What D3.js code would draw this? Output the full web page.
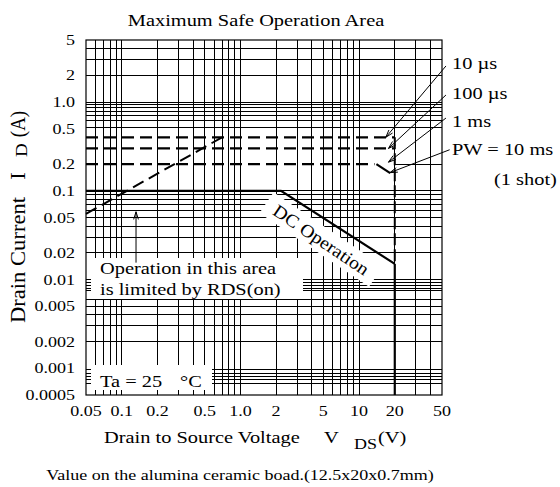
<!DOCTYPE html>
<html><head><meta charset="utf-8">
<script src="https://cdn.jsdelivr.net/npm/d3@7/dist/d3.min.js"></script>
<style>
body{margin:0;background:#fff}
text{font-family:"Liberation Serif","Times New Roman",serif;fill:#000}
</style>
</head><body>
<svg id="chart" width="560" height="487"></svg>
<script>
// ---------- data ----------
const title = "Maximum Safe Operation Area";
const xDomain = [0.05, 50];
const yDomain = [0.0005, 5];
const xTickValues = [0.05, 0.1, 0.2, 0.5, 1, 2, 5, 10, 20, 50];
const xTickLabels = ["0.05", "0.1", "0.2", "0.5", "1.0", "2", "5", "10", "20", "50"];
const yTickValues = [5, 2, 1, 0.5, 0.2, 0.1, 0.05, 0.02, 0.01, 0.005, 0.002, 0.001, 0.0005];
const yTickLabels = ["5", "2", "1.0", "0.5", "0.2", "0.1", "0.05", "0.02", "0.01", "0.005", "0.002", "0.001", "0.0005"];
const xGrid = [0.06, 0.07, 0.08, 0.09, 0.1, 0.2, 0.3, 0.4, 0.5, 0.6, 0.7, 0.8, 0.9,
               1, 2, 3, 4, 5, 6, 7, 8, 9, 10, 20, 30, 40];
const yGrid = [4, 3, 2,
               1.0, 0.93, 0.86, 0.79, 0.71, 0.62, 0.51,
               0.1, 0.09, 0.08, 0.07, 0.06, 0.05, 0.04, 0.03, 0.02,
               0.01, 0.0093, 0.0086, 0.008, 0.0075, 0.006, 0.005, 0.004, 0.003, 0.002,
               0.00096, 0.00088, 0.0008, 0.00074, 0.00068];
const yGridPartial = [[20, 50, 0.2]];          // [from V, to V, I]
const dcLine = [[0.05, 0.1], [2.2, 0.1], [20, 0.015]];
const dcVertical = [[20, 0.015], [20, 0.0005]];
const pulseVertical = [[20, 0.4], [20, 0.015]];
const rdsLine = [[0.05, 0.055], [0.7, 0.4]];
const pw10us = [[0.05, 0.4], [20, 0.4]];
const pw100us = [[0.05, 0.3], [20, 0.3]];
const pw1ms = [[0.05, 0.2], [13.5, 0.2]];
const pw10ms = [[14, 0.2], [18.3, 0.158]];
const pwLabels = ["10 µs", "100 µs", "1 ms", "PW = 10 ms"];
const pwArrowFrom = [[54, 2.55], [54, 1.2], [54, 0.66], [58, 0.29]];
const pwArrowTo = [[16.8, 0.4], [17.7, 0.3], [17.7, 0.21], [18.2, 0.16]];
const rdsArrow = [[0.132, 0.0155], [0.132, 0.058]];
const xTitle = "Drain to Source Voltage";
const yTitle = "Drain Current";
const note = "Value on the alumina ceramic boad.(12.5x20x0.7mm)";

// ---------- drawing ----------
const svg = d3.select("#chart");
const L = 86, R = 442, T = 40, B = 395;
const x = d3.scaleLog().domain(xDomain).range([L, R]);
const y = d3.scaleLog().domain(yDomain).range([B, T]);
const line = d3.line().x(d => x(d[0])).y(d => y(d[1]));
const SX = 1.2;

function txt(g, px, py, s, size, anchor) {
  return g.append("text")
    .attr("transform", `translate(${px},${py}) scale(${SX},1)`)
    .attr("font-size", size).attr("text-anchor", anchor || "start").text(s);
}

// grid
const grid = svg.append("g").attr("stroke", "#000").attr("stroke-width", 1).attr("shape-rendering", "crispEdges");
grid.selectAll("line.v").data(xGrid).join("line")
  .attr("x1", d => x(d)).attr("x2", d => x(d)).attr("y1", T).attr("y2", B);
grid.selectAll("line.h").data(yGrid).join("line")
  .attr("y1", d => y(d)).attr("y2", d => y(d)).attr("x1", L).attr("x2", R);
grid.selectAll("line.p").data(yGridPartial).join("line")
  .attr("x1", d => x(d[0])).attr("x2", d => x(d[1])).attr("y1", d => y(d[2])).attr("y2", d => y(d[2]));

// white label boxes
svg.append("rect").attr("x", 91).attr("y", 258).attr("width", 212).attr("height", 41).attr("fill", "#fff");
svg.append("rect").attr("x", 91).attr("y", 365).attr("width", 121).attr("height", 30).attr("fill", "#fff");
const dcG = svg.append("g").attr("transform", "translate(321,240) rotate(34)");
dcG.append("rect").attr("x", -66).attr("y", -13).attr("width", 132).attr("height", 25).attr("fill", "#fff");
dcG.append("text").attr("font-size", 18).attr("text-anchor", "middle").attr("dy", "0.33em")
  .attr("transform", "scale(1.1,1)").text("DC Operation");

// axis ticks (inside) drawn on top of boxes
const ax = svg.append("g").attr("stroke", "#000").attr("shape-rendering", "crispEdges");
ax.selectAll("line.bt").data(xGrid).join("line")
  .attr("x1", d => x(d)).attr("x2", d => x(d)).attr("y1", B).attr("y2", B - 5);
ax.selectAll("line.lt").data(yGrid).join("line")
  .attr("y1", d => y(d)).attr("y2", d => y(d)).attr("x1", L).attr("x2", L + 5);

// curves
svg.append("path").attr("d", line(dcLine)).attr("fill", "none").attr("stroke", "#000").attr("stroke-width", 2.2);
svg.append("path").attr("d", line(dcVertical)).attr("fill", "none").attr("stroke", "#000").attr("stroke-width", 2.2);
svg.append("path").attr("d", line(pulseVertical)).attr("fill", "none").attr("stroke", "#000").attr("stroke-width", 2).attr("stroke-dasharray", "12,4");
[pw10us, pw100us, pw1ms].forEach(s => {
  svg.append("path").attr("d", line(s)).attr("fill", "none").attr("stroke", "#000")
    .attr("stroke-width", 2.2).attr("stroke-dasharray", "12,6");
});
svg.append("path").attr("d", line(pw10ms)).attr("fill", "none").attr("stroke", "#000").attr("stroke-width", 2.2);
svg.append("path").attr("d", line(rdsLine)).attr("fill", "none").attr("stroke", "#000")
  .attr("stroke-width", 2).attr("stroke-dasharray", "12,6");

// border
svg.append("rect").attr("x", L).attr("y", T).attr("width", R - L).attr("height", B - T)
  .attr("fill", "none").attr("stroke", "#000").attr("stroke-width", 1.2);

// arrows
function arrow(p0, p1) {
  const x0 = x(p0[0]), y0 = y(p0[1]), x1 = x(p1[0]), y1 = y(p1[1]);
  const a = Math.atan2(y1 - y0, x1 - x0), h = 8, w = 0.3;
  svg.append("path").attr("fill", "none").attr("stroke", "#000").attr("stroke-width", 1)
    .attr("d", `M${x0},${y0}L${x1},${y1}M${x1 - h * Math.cos(a - w)},${y1 - h * Math.sin(a - w)}L${x1},${y1}L${x1 - h * Math.cos(a + w)},${y1 - h * Math.sin(a + w)}`);
}
pwArrowFrom.forEach((p, i) => arrow(p, pwArrowTo[i]));
arrow(rdsArrow[0], rdsArrow[1]);

// texts
txt(svg, 256, 26, title, 17, "middle");
const labelY = [68.5, 98.5, 126.5, 154.5];
pwLabels.forEach((s, i) => txt(svg, 452, labelY[i], s, 17, "start"));
txt(svg, 494, 185, "(1 shot)", 17, "start");
txt(svg, 100, 274, "Operation in this area", 17, "start");
txt(svg, 100, 295, "is limited by RDS(on)", 17, "start");
txt(svg, 100, 387, "Ta = 25", 17, "start");
txt(svg, 180, 387, "°C", 17, "start");

xTickValues.forEach((v, i) => txt(svg, x(v), 416, xTickLabels[i], 15, "middle"));
yTickValues.forEach((v, i) => txt(svg, 75, y(v) + 5, yTickLabels[i], 15, "end"));

txt(svg, 104, 443, xTitle, 17, "start");
txt(svg, 324, 443, "V", 17, "start");
txt(svg, 354, 449, "DS", 15, "start");
txt(svg, 378, 443, "(V)", 17, "start");
txt(svg, 240, 480, note, 15, "middle");

function vtxt(px, py, s, size, sa, sc) {
  svg.append("text").attr("transform", `translate(${px},${py}) rotate(-90) scale(${sa},${sc})`)
    .attr("font-size", size).attr("text-anchor", "middle").text(s);
}
vtxt(25, 260, yTitle, 20, 1.13, 1);
vtxt(25, 176, "I", 20, 1.13, 1);
vtxt(27, 150, "D", 16, 1.2, 1);
vtxt(24.5, 124, "(A)", 19, 1, 1.05);
</script>
</body></html>
